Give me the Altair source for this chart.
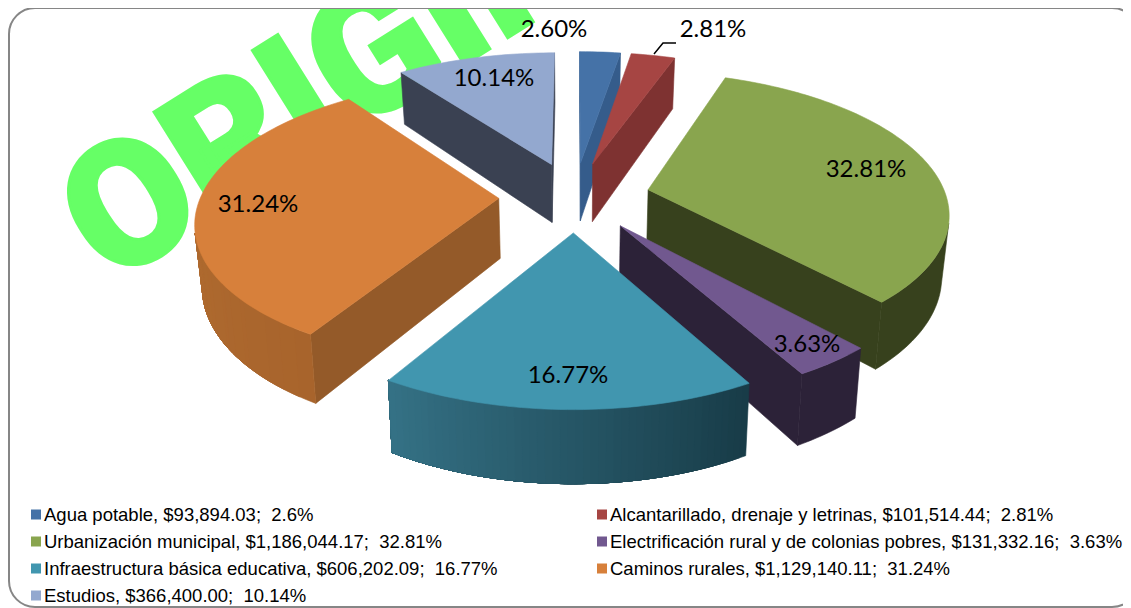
import math
import altair as alt

# ---- data
names = ["Agua potable", "Alcantarillado, drenaje y letrinas", "Urbanización municipal",
         "Electrificación rural y de colonias pobres", "Infraestructura básica educativa",
         "Caminos rurales", "Estudios"]
amounts = ["$93,894.03", "$101,514.44", "$1,186,044.17", "$131,332.16", "$606,202.09",
           "$1,129,140.11", "$366,400.00"]
legend_pct = ["2.6%", "2.81%", "32.81%", "3.63%", "16.77%", "31.24%", "10.14%"]
shares = [2.60, 2.81, 32.81, 3.63, 16.77, 31.24, 10.14]
label_text = ["2.60%", "2.81%", "32.81%", "3.63%", "16.77%", "31.24%", "10.14%"]

# ---- styles and layout
top_col = ["#4572a7", "#a64543", "#89a54e", "#71588f", "#4196af", "#d7803b", "#93a8cf"]
cut_col = ["#355c8b", "#7e3231", "#37411d", "#2c2238", "#1a3e4a", "#945a29", "#3a4152"]
arc_a = ["#355c8b", "#7e3231", "#37411d", "#2c2238", "#183c48", "#a8642c", "#3a4152"]
arc_b = ["#355c8b", "#7e3231", "#37411d", "#2c2238", "#357286", "#b97434", "#3a4152"]
label_xy = [(554, 30), (713, 30), (866, 170), (807, 345), (568, 376), (258, 205), (494, 79)]
draw_order = [6, 0, 1, 2, 5, 3, 4]
PAGE = 8
W, H = 1115, 600
CX, CY, A, B, K, EXPL, DEPTH, SHRINK = 574.5, 196.6, 298, 137.6, 0.1515, 0.254, 60, 0.98


def mix(c1, c2, f):
    a = [int(c1[i:i + 2], 16) for i in (1, 3, 5)]
    b = [int(c2[i:i + 2], 16) for i in (1, 3, 5)]
    return "#%02x%02x%02x" % tuple(round(p + (q - p) * f) for p, q in zip(a, b))


def project(X, Y, bottom=False):
    w = 1 + K * Y
    s = SHRINK if bottom else 1
    return [CX + s * A * X / w - PAGE, CY - B * Y / w + (DEPTH / w if bottom else 0) - PAGE]


def poly(points, fill):
    ring = points + [points[0]]
    return {"type": "Feature", "geometry": {"type": "Polygon", "coordinates": [ring]},
            "properties": {"fill": fill}}


def signed(p):
    return sum(p[i][0] * p[(i + 1) % len(p)][1] - p[(i + 1) % len(p)][0] * p[i][1] for i in range(len(p)))


starts = [sum(shares[:i]) * 3.6 for i in range(len(shares))]
features = []
for i in draw_order:
    t0 = starts[i]
    span = shares[i] * 3.6
    tb = math.radians(t0 + span / 2)
    ox, oy = EXPL * math.sin(tb), EXPL * math.cos(tb)
    n = max(2, int(span / 1.2))
    rim = []
    for j in range(n + 1):
        t = math.radians(t0 + span * j / n)
        rim.append((ox + math.sin(t), oy + math.cos(t)))
    apex = (ox, oy)
    # cut faces that look at the viewer
    for p, q in [(apex, rim[0]), (rim[-1], apex)]:
        quad = [project(*p), project(*q), project(*q, True), project(*p, True)]
        if signed(quad) < 0:
            features.append(poly(quad, cut_col[i]))
    # outer wall: nested bands, each painted over the previous, so no seams show
    visible = [j for j in range(n) if signed([project(*rim[j]), project(*rim[j + 1]),
                                              project(*rim[j + 1], True), project(*rim[j], True)]) < 0]
    if visible:
        last = visible[-1] + 1
        previous = None
        for j in visible:
            c = mix(arc_a[i], arc_b[i], j / n)
            if c == previous:
                continue
            previous = c
            band = [project(*r) for r in rim[j:last + 1]] + [project(*r, True) for r in reversed(rim[j:last + 1])]
            features.append(poly(band, c))
    features.append(poly([project(*apex)] + [project(*r) for r in rim], top_col[i]))

X_SCALE = alt.Scale(domain=[0, W], nice=False, zero=False)
Y_SCALE = alt.Scale(domain=[0, H], reverse=True, nice=False, zero=False)
xe = alt.X("x:Q", scale=X_SCALE, axis=None)
ye = alt.Y("y:Q", scale=Y_SCALE, axis=None)

watermark = alt.Chart(alt.Data(values=[{"x": 420 - PAGE, "y": 30 - PAGE, "t": "ORIGINAL"}])).mark_text(
    font="Roboto", fontWeight=900, fontSize=175, angle=328, color="#66ff66",
    stroke="#66ff66", strokeWidth=3,
    align="center", baseline="middle").encode(x=xe, y=ye, text="t:N")

border = alt.Chart(alt.Data(values=[{"x": 1, "x2": W + 15, "y": 0, "y2": H - 1}])).mark_rect(
    cornerRadius=26, fillOpacity=0, stroke="#868686", strokeWidth=2).encode(
    x=xe, x2="x2:Q", y=ye, y2="y2:Q")

pie = alt.Chart(alt.Data(values=features)).mark_geoshape(
    strokeWidth=0.6, opacity=1, fillOpacity=1, strokeOpacity=1).encode(
    color=alt.Color("properties.fill:N", scale=None, legend=None),
    stroke=alt.Stroke("properties.fill:N", scale=None, legend=None),
).project(type="identity", scale=1, translate=[0, 0])

labels = alt.Chart(alt.Data(values=[
    {"x": xy[0] - PAGE, "y": xy[1] - PAGE, "t": t} for xy, t in zip(label_xy, label_text)
])).mark_text(font="Lato", fontSize=24, color="#000000", align="center", baseline="middle").encode(
    x=xe, y=ye, text="t:N")

leader = alt.Chart(alt.Data(values=[
    {"x": 654 - PAGE, "y": 54 - PAGE, "o": 0},
    {"x": 663 - PAGE, "y": 43 - PAGE, "o": 1},
    {"x": 676 - PAGE, "y": 43 - PAGE, "o": 2},
])).mark_line(color="#000000", strokeWidth=1.5).encode(x=xe, y=ye, order="o:O")

rows = []
for i, (nm, am, pc) in enumerate(zip(names, amounts, legend_pct)):
    col, row = i % 2, i // 2
    rows.append({"x": (36 if col == 0 else 602) - PAGE, "y": 514.5 + row * 27 - PAGE,
                 "tx": (44 if col == 0 else 610) - PAGE,
                 "t": f"{nm}, {am}; \u00a0{pc}", "c": top_col[i]})
legend_data = alt.Data(values=rows)
swatches = alt.Chart(legend_data).mark_square(size=100, opacity=1).encode(
    x=xe, y=ye, color=alt.Color("c:N", scale=None, legend=None))
legend_text = alt.Chart(legend_data).mark_text(
    font="Liberation Sans", fontSize=18.5, color="#000000", align="left", baseline="middle").encode(
    x=alt.X("tx:Q", scale=X_SCALE, axis=None), y=ye, text="t:N")

chart = alt.layer(watermark, border, pie, labels, leader, swatches, legend_text).properties(
    width=W, height=H, padding=0, autosize=alt.AutoSizeParams(type="none")
).configure_view(stroke=None)

chart.save("out.html", embed_options={"renderer": "svg", "actions": False})
